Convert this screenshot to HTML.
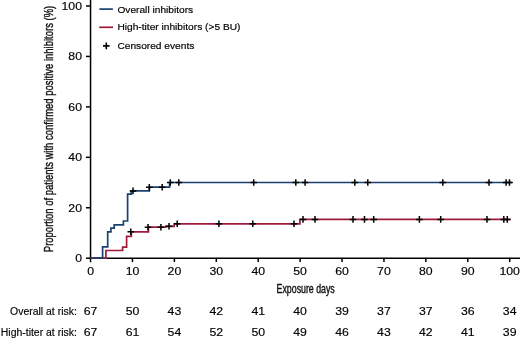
<!DOCTYPE html>
<html><head><meta charset="utf-8"><style>
html,body{margin:0;padding:0;background:#fff;}
body{width:520px;height:338px;overflow:hidden;}
svg{display:block;will-change:transform;font-family:"Liberation Sans",sans-serif;}
</style></head><body>
<svg width="520" height="338" viewBox="0 0 520 338">
<g stroke="#000" stroke-width="1.5" fill="none">
<path d="M90.55,0 V262.3"/>
<path d="M89.8,258.2 H520"/>
<path d="M86,258.20 H90.55"/>
<path d="M86,207.76 H90.55"/>
<path d="M86,157.32 H90.55"/>
<path d="M86,106.88 H90.55"/>
<path d="M86,56.44 H90.55"/>
<path d="M86,6.00 H90.55"/>
<path d="M132.46,258.2 V262"/>
<path d="M174.38,258.2 V262"/>
<path d="M216.29,258.2 V262"/>
<path d="M258.21,258.2 V262"/>
<path d="M300.12,258.2 V262"/>
<path d="M342.04,258.2 V262"/>
<path d="M383.95,258.2 V262"/>
<path d="M425.87,258.2 V262"/>
<path d="M467.78,258.2 V262"/>
<path d="M509.70,258.2 V262"/>
</g>
<path d="M90.55,258.2 H105.9 V250.5 H122.6 V247.1 H126.6 V236.3 H131.3 V231.8 H148.4 V227.2 H165.8 V226.3 H174.2 V223.8 H299.9 V219.4 H510.5" stroke="#a01a3a" stroke-width="1.7" fill="none"/>
<path d="M90.55,258.2 H102.6 V246.9 H107.7 V231.9 H110.9 V228.1 H114.2 V224.8 H123.4 V221 H127.6 V194.2 H131.2 V190.9 H149.4 V187.2 H169.6 V182.5 H512" stroke="#1a416f" stroke-width="1.7" fill="none"/>
<g stroke="#000" stroke-width="1.5" fill="none">
<path d="M129.70,190.90H136.30M133.00,187.60V194.20"/>
<path d="M146.00,187.20H152.60M149.30,183.90V190.50"/>
<path d="M158.90,187.20H165.50M162.20,183.90V190.50"/>
<path d="M167.00,182.50H173.60M170.30,179.20V185.80"/>
<path d="M175.50,182.50H182.10M178.80,179.20V185.80"/>
<path d="M250.40,182.50H257.00M253.70,179.20V185.80"/>
<path d="M292.50,182.50H299.10M295.80,179.20V185.80"/>
<path d="M301.80,182.50H308.40M305.10,179.20V185.80"/>
<path d="M351.50,182.50H358.10M354.80,179.20V185.80"/>
<path d="M364.50,182.50H371.10M367.80,179.20V185.80"/>
<path d="M439.50,182.50H446.10M442.80,179.20V185.80"/>
<path d="M485.70,182.50H492.30M489.00,179.20V185.80"/>
<path d="M502.80,182.50H509.40M506.10,179.20V185.80"/>
<path d="M506.20,182.50H512.80M509.50,179.20V185.80"/>
<path d="M127.50,231.80H134.10M130.80,228.50V235.10"/>
<path d="M144.70,227.20H151.30M148.00,223.90V230.50"/>
<path d="M157.60,227.20H164.20M160.90,223.90V230.50"/>
<path d="M165.70,226.30H172.30M169.00,223.00V229.60"/>
<path d="M173.90,223.80H180.50M177.20,220.50V227.10"/>
<path d="M215.60,223.80H222.20M218.90,220.50V227.10"/>
<path d="M249.50,223.80H256.10M252.80,220.50V227.10"/>
<path d="M290.70,223.80H297.30M294.00,220.50V227.10"/>
<path d="M299.70,219.40H306.30M303.00,216.10V222.70"/>
<path d="M311.70,219.40H318.30M315.00,216.10V222.70"/>
<path d="M349.70,219.40H356.30M353.00,216.10V222.70"/>
<path d="M361.20,219.40H367.80M364.50,216.10V222.70"/>
<path d="M370.40,219.40H377.00M373.70,216.10V222.70"/>
<path d="M416.10,219.40H422.70M419.40,216.10V222.70"/>
<path d="M437.40,219.40H444.00M440.70,216.10V222.70"/>
<path d="M483.70,219.40H490.30M487.00,216.10V222.70"/>
<path d="M500.50,219.40H507.10M503.80,216.10V222.70"/>
<path d="M504.00,219.40H510.60M507.30,216.10V222.70"/>
</g>
<path d="M99.4,9.1 H112.9" stroke="#1a416f" stroke-width="1.7"/>
<path d="M99.2,27.3 H113.1" stroke="#a01a3a" stroke-width="1.7"/>
<g stroke="#000" stroke-width="1.6"><path d="M103.00,45.90H109.60M106.30,42.60V49.20"/></g>
<g font-size="9.8" fill="#000" stroke="#000" stroke-width="0.18">
<text transform="translate(117.4,12.6) scale(1.04,1)">Overall inhibitors</text>
<text transform="translate(117.4,29.7) scale(1.04,1)">High-titer inhibitors (&gt;5 BU)</text>
<text transform="translate(117.4,48.7) scale(1.04,1)">Censored events</text>
</g>
<g font-size="10.6" fill="#000" stroke="#000" stroke-width="0.15" text-anchor="end">
<text transform="translate(82.0,262.20) scale(1.16,1)">0</text>
<text transform="translate(82.0,211.76) scale(1.16,1)">20</text>
<text transform="translate(82.0,161.32) scale(1.16,1)">40</text>
<text transform="translate(82.0,110.88) scale(1.16,1)">60</text>
<text transform="translate(82.0,60.44) scale(1.16,1)">80</text>
<text transform="translate(82.0,10.00) scale(1.16,1)">100</text>
</g>
<g font-size="10.6" fill="#000" stroke="#000" stroke-width="0.15" text-anchor="middle">
<text transform="translate(90.55,274.7) scale(1.16,1)">0</text>
<text transform="translate(132.46,274.7) scale(1.16,1)">10</text>
<text transform="translate(174.38,274.7) scale(1.16,1)">20</text>
<text transform="translate(216.29,274.7) scale(1.16,1)">30</text>
<text transform="translate(258.21,274.7) scale(1.16,1)">40</text>
<text transform="translate(300.12,274.7) scale(1.16,1)">50</text>
<text transform="translate(342.04,274.7) scale(1.16,1)">60</text>
<text transform="translate(383.95,274.7) scale(1.16,1)">70</text>
<text transform="translate(425.87,274.7) scale(1.16,1)">80</text>
<text transform="translate(467.78,274.7) scale(1.16,1)">90</text>
<text transform="translate(509.70,274.7) scale(1.16,1)">100</text>
</g>
<text font-size="12.5" fill="#111" stroke="#111" stroke-width="0.4" transform="translate(52.8,251.4) rotate(-90) scale(0.759,1)" x="-1">Proportion of patients with confirmed positive inhibitors (%)</text>
<text font-size="12.5" fill="#111" stroke="#111" stroke-width="0.4" transform="translate(276.6,293.1) scale(0.704,1)">Exposure days</text>
<g font-size="10.2" fill="#000" stroke="#000" stroke-width="0.15">
<text x="76.8" y="315" text-anchor="end" font-size="10.45">Overall at risk:</text>
<text x="76.8" y="335.6" text-anchor="end" font-size="10.45">High-titer at risk:</text>
</g>
<g font-size="10.6" fill="#000" stroke="#000" stroke-width="0.15" text-anchor="middle">
<text transform="translate(90.55,315) scale(1.16,1)">67</text>
<text transform="translate(90.55,335.6) scale(1.16,1)">67</text>
<text transform="translate(132.46,315) scale(1.16,1)">50</text>
<text transform="translate(132.46,335.6) scale(1.16,1)">61</text>
<text transform="translate(174.38,315) scale(1.16,1)">43</text>
<text transform="translate(174.38,335.6) scale(1.16,1)">54</text>
<text transform="translate(216.29,315) scale(1.16,1)">42</text>
<text transform="translate(216.29,335.6) scale(1.16,1)">52</text>
<text transform="translate(258.21,315) scale(1.16,1)">41</text>
<text transform="translate(258.21,335.6) scale(1.16,1)">50</text>
<text transform="translate(300.12,315) scale(1.16,1)">40</text>
<text transform="translate(300.12,335.6) scale(1.16,1)">49</text>
<text transform="translate(342.04,315) scale(1.16,1)">39</text>
<text transform="translate(342.04,335.6) scale(1.16,1)">46</text>
<text transform="translate(383.95,315) scale(1.16,1)">37</text>
<text transform="translate(383.95,335.6) scale(1.16,1)">43</text>
<text transform="translate(425.87,315) scale(1.16,1)">37</text>
<text transform="translate(425.87,335.6) scale(1.16,1)">42</text>
<text transform="translate(467.78,315) scale(1.16,1)">36</text>
<text transform="translate(467.78,335.6) scale(1.16,1)">41</text>
<text transform="translate(509.70,315) scale(1.16,1)">34</text>
<text transform="translate(509.70,335.6) scale(1.16,1)">39</text>
</g>
</svg>
</body></html>
